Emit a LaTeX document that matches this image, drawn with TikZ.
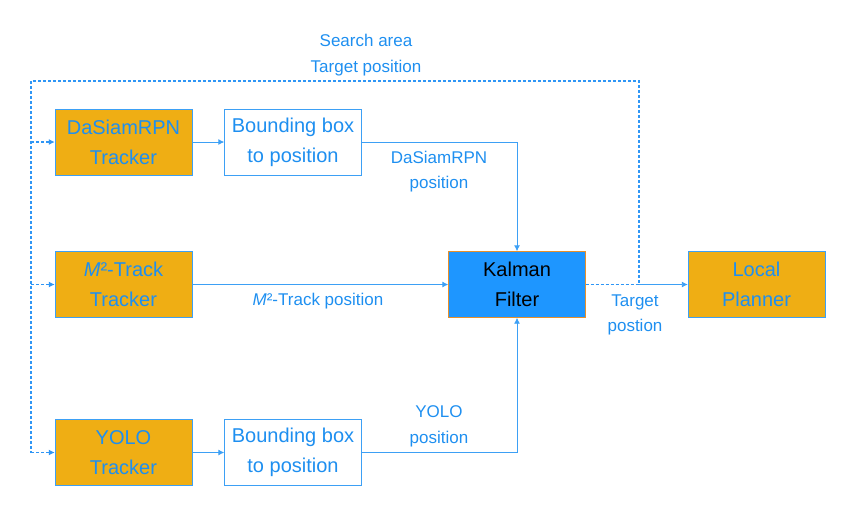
\documentclass[tikz,border=0pt]{standalone}
\usepackage{fontspec}
\setmainfont{Liberation Sans}
\usetikzlibrary{positioning, arrows.meta}
\definecolor{TrackGold}{HTML}{EFAE14}
\definecolor{LinkBlue}{HTML}{3DA0F5}
\definecolor{DashBlue}{HTML}{2F96F5}
\definecolor{TextBlue}{HTML}{1E8FF0}
\definecolor{FilterBlue}{HTML}{1E96FF}
\definecolor{FilterEdge}{HTML}{E8902A}
\begin{document}
\begin{tikzpicture}[x=1pt, y=-1pt,
    box/.style={draw=LinkBlue, minimum width=137pt, minimum height=66pt, inner sep=0pt,
        align=center, text=TextBlue, font=\fontsize{20}{30}\selectfont},
    tracker/.style={box, fill=TrackGold},
    convert/.style={box, fill=white},
    link/.style={draw=LinkBlue, line width=0.9pt, -{Latex[length=6pt, width=6pt]}},
    feedback/.style={link, draw=DashBlue, densely dashed, line width=1.2pt},
    lbl/.style={text=TextBlue, align=center, font=\fontsize{17}{25.5}\selectfont}]
    \useasboundingbox (0,0) rectangle (856,515);
    \node[tracker] (dasiam) at (123.5,142) {DaSiamRPN\\Tracker};
    \node[convert] (bbtop) at (293,142) {Bounding box\\to position};
    \node[tracker] (mtrack) at (123.5,284.5) {\textit{M}²-Track\\Tracker};
    \node[box, fill=FilterBlue, draw=FilterEdge, text=black] (kf) at (517,284.5) {Kalman\\Filter};
    \node[tracker] (planner) at (756.5,284.5) {Local\\Planner};
    \node[tracker] (yolo) at (123.5,452.5) {YOLO\\Tracker};
    \node[convert] (bbbot) at (293,452.5) {Bounding box\\to position};
    \coordinate (fbright) at (639,81);
    \coordinate (fbleft) at (31,81);

    \draw[link] (dasiam) -- (bbtop);
    \draw[link] (yolo) -- (bbbot);
    \draw[link] (bbtop.east) -| (kf.north);
    \draw[link] (bbbot.east) -| (kf.south);
    \draw[link] (mtrack) -- (kf);
    \draw[link] (fbright |- kf.east) -- (planner);

    % feedback loop
    \draw[feedback, -] (kf.east) -| (fbright) -- (fbleft) -- (fbleft |- yolo.west);
    \draw[feedback] (fbleft |- dasiam.west) -- (dasiam.west);
    \draw[feedback] (fbleft |- mtrack.west) -- (mtrack.west);
    \draw[feedback] (fbleft |- yolo.west) -- (yolo.west);

    \node[lbl] (lsearch) at (366,55) {Search area\\Target position};
    \node[lbl] (ldasiam) at (439,171.5) {DaSiamRPN\\position};
    \node[lbl] (lmtrack) at (318,301) {\textit{M}²-Track position};
    \node[lbl] (lyolo) at (439,426.5) {YOLO\\position};
    \node[lbl] (ltarget) at (635,315) {Target\\postion};
\end{tikzpicture}
\end{document}
